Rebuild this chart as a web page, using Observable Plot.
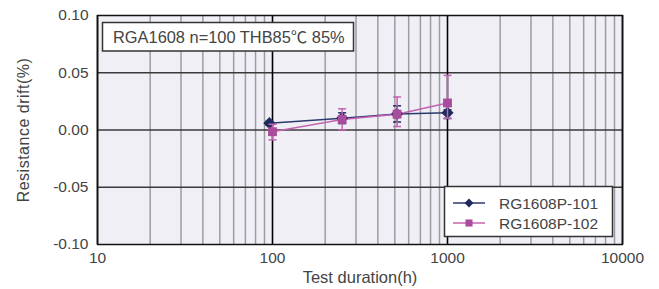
<!DOCTYPE html>
<html>
<head>
<meta charset="utf-8">
<script src="https://cdn.jsdelivr.net/npm/d3@7"></script>
<script src="https://cdn.jsdelivr.net/npm/@observablehq/plot@0.6"></script>
<style>
  html, body { margin: 0; padding: 0; background: #fff; }
  #chart svg { display: block; }
  #chart svg [aria-label="y-axis label"] text { letter-spacing: 0.5px; font-size: 16px; }
  #chart svg [aria-label="x-axis label"] text { font-size: 16.5px; }
</style>
</head>
<body>
<div id="chart"></div>
<script>
// ---- data ----
const seriesNames = ["RG1608P-101", "RG1608P-102"];
const hours101 = [96, 250, 515, 1000];
const drift101 = [0.0060, 0.0103, 0.0140, 0.0150];
const low101   = [0.0045, 0.0056, 0.0070, 0.0100];
const high101  = [0.0075, 0.0150, 0.0211, 0.0176];
const hours102 = [100, 250, 515, 1000];
const drift102 = [-0.0015, 0.0092, 0.0138, 0.0236];
const low102   = [-0.0086, 0.0002, 0.0030, 0.0103];
const high102  = [0.0050, 0.0185, 0.0288, 0.0477];
const xTicks = [10, 100, 1000, 10000];
const xMinorGrid = [20, 30, 40, 50, 60, 70, 80, 90, 200, 300, 400, 500, 600, 700, 800, 900, 2000, 3000, 4000, 5000, 6000, 7000, 8000, 9000];
const yTicks = [-0.10, -0.05, 0.00, 0.05, 0.10];
const yGrid = [-0.05, 0.00, 0.05];
const titleText = "RGA1608 n=100 THB85℃ 85%";

const colors = ["#1f2b5e", "#a94c9c"];
const lineColors = ["#2c3a6e", "#c463b2"];

const rows = [];
hours101.forEach((h, i) => rows.push({series: seriesNames[0], h, v: drift101[i], lo: low101[i], hi: high101[i]}));
hours102.forEach((h, i) => rows.push({series: seriesNames[1], h, v: drift102[i], lo: low102[i], hi: high102[i]}));
const s1 = rows.filter(d => d.series === seriesNames[0]);
const s2 = rows.filter(d => d.series === seriesNames[1]);

const capSymbol = {
  draw(context, size) {
    const r = Math.sqrt(size / Math.PI);
    context.moveTo(-r, 0);
    context.lineTo(r, 0);
  }
};

const W = 659, H = 289;
const mL = 97, mR = 37, mT = 15, mB = 45;
const font = "'Liberation Sans', Arial, 'Noto Sans CJK JP', sans-serif";
const textColor = "#444";

const chart = Plot.plot({
  width: W, height: H,
  marginLeft: mL, marginRight: mR, marginTop: mT, marginBottom: mB,
  style: {fontFamily: font, fontSize: "15.5px", color: textColor, background: "#fff"},
  x: {type: "log", domain: [10, 10000], ticks: xTicks, tickFormat: d => String(d), tickSize: 0, tickPadding: 7,
      label: "Test duration(h)", labelAnchor: "center", labelOffset: 38, labelArrow: "none"},
  y: {domain: [-0.10, 0.10], ticks: yTicks, tickFormat: d => d.toFixed(2), tickSize: 0, tickPadding: 9,
      label: "Resistance drift(%)", labelAnchor: "center", labelOffset: 80, labelArrow: "none"},
  marks: [
    Plot.frame({fill: "#f1eff6", stroke: "none"}),
    Plot.ruleX(xMinorGrid, {stroke: "#9d9ca3", strokeWidth: 1.5}),
    Plot.ruleY(yGrid, {stroke: "#3a3a3a", strokeWidth: 1.6}),
    Plot.ruleX(xTicks, {stroke: "#000", strokeWidth: 1.6}),
    // lines
    Plot.line(s1, {x: "h", y: "v", stroke: lineColors[0], strokeWidth: 1.5}),
    Plot.line(s2, {x: "h", y: "v", stroke: lineColors[1], strokeWidth: 1.5}),
    // error bars
    Plot.ruleX(s1, {x: "h", y1: "lo", y2: "hi", stroke: colors[0], strokeWidth: 1.5}),
    Plot.dot(s1, {x: "h", y: "hi", symbol: capSymbol, r: 4, stroke: colors[0], strokeWidth: 1.5}),
    Plot.dot(s1, {x: "h", y: "lo", symbol: capSymbol, r: 4, stroke: colors[0], strokeWidth: 1.5}),
    Plot.dot(s1, {x: "h", y: "v", symbol: "diamond2", r: 5.5, fill: colors[0], stroke: "none"}),
    Plot.ruleX(s2, {x: "h", y1: "lo", y2: "hi", stroke: lineColors[1], strokeWidth: 1.5}),
    Plot.dot(s2, {x: "h", y: "hi", symbol: capSymbol, r: 4, stroke: lineColors[1], strokeWidth: 1.5}),
    Plot.dot(s2, {x: "h", y: "lo", symbol: capSymbol, r: 4, stroke: lineColors[1], strokeWidth: 1.5}),
    Plot.dot(s2, {x: "h", y: "v", symbol: "square", r: 5, fill: colors[1], stroke: "none"}),
    Plot.frame({stroke: "#111", strokeWidth: 1.5})
  ]
});

document.getElementById("chart").appendChild(chart);

// ---- annotation box and legend (inside the svg) ----
const svg = d3.select(chart);
const plotRight = W - mR, plotBottom = H - mB;

// title box
const tb = svg.append("g").attr("font-family", font).attr("font-size", 16.4).attr("text-anchor", "start");
tb.append("rect").attr("x", mL + 5.5).attr("y", mT + 7.5).attr("width", 251).attr("height", 28.5)
  .attr("fill", "#fff").attr("stroke", "#333").attr("stroke-width", 1.5);
tb.append("text").attr("x", mL + 16).attr("y", mT + 22).attr("dy", "0.36em")
  .attr("fill", textColor).text(titleText);

// legend
const lg = svg.append("g").attr("font-family", font).attr("font-size", 15.5).attr("text-anchor", "start");
const lx = plotRight - 178, ly = plotBottom - 58;
lg.append("rect").attr("x", lx + 0.5).attr("y", ly + 0.5).attr("width", 168).attr("height", 50)
  .attr("fill", "#fff").attr("stroke", "#333").attr("stroke-width", 1.5);
const legendSymbols = [d3.symbolDiamond2, d3.symbolSquare];
const legendSizes = [50, 50];
seriesNames.forEach((name, i) => {
  const y = ly + 17 + i * 20;
  lg.append("line").attr("x1", lx + 9).attr("x2", lx + 41).attr("y1", y).attr("y2", y)
    .attr("stroke", lineColors[i]).attr("stroke-width", 1.5);
  lg.append("path").attr("d", d3.symbol(legendSymbols[i], legendSizes[i])())
    .attr("transform", `translate(${lx + 25},${y})`).attr("fill", colors[i]);
  lg.append("text").attr("x", lx + 55).attr("y", y).attr("dy", "0.36em")
    .attr("fill", textColor).text(name);
});
</script>
</body>
</html>
